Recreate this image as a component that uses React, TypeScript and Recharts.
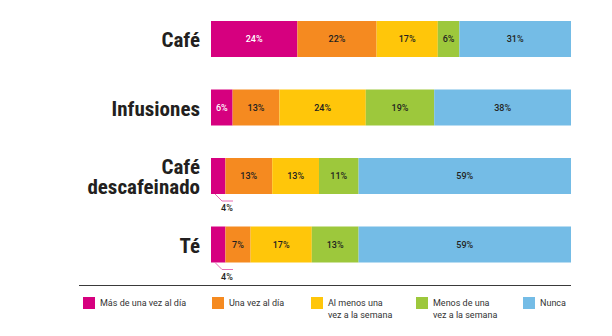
import { Bar, BarChart, LabelList, XAxis, YAxis } from 'recharts';

const categories = ['Café', 'Infusiones', 'Café\ndescafeinado', 'Té'];
const masDeUnaVez = [24, 6, 4, 4];
const unaVez = [22, 13, 13, 7];
const alMenosSemana = [17, 24, 13, 17];
const menosSemana = [6, 19, 11, 13];
const nunca = [31, 38, 59, 59];

const seriesNames = [
  'Más de una vez al día',
  'Una vez al día',
  'Al menos una\nvez a la semana',
  'Menos de una\nvez a la semana',
  'Nunca',
];
const seriesKeys = ['mas', 'una', 'alMenos', 'menos', 'nunca'];
const colors = ['#d6007f', '#f58a20', '#ffc60a', '#9dc83c', '#74bce6'];

const data = categories.map((c, i) => ({
  name: c,
  mas: masDeUnaVez[i],
  una: unaVez[i],
  alMenos: alMenosSemana[i],
  menos: menosSemana[i],
  nunca: nunca[i],
}));

const catFont = '"Liberation Sans Narrow", "Roboto Condensed", Roboto, sans-serif';
const labelFont = 'Roboto, "Noto Sans", sans-serif';

function CategoryTick(props: any) {
  const { x, y, payload } = props;
  const lines = String(payload.value).split('\n');
  const lh = 20;
  const start = y - ((lines.length - 1) * lh) / 2;
  return (
    <text
      x={x}
      y={start}
      textAnchor="end"
      dominantBaseline="central"
      fontFamily={catFont}
      fontWeight={700}
      fontSize={21}
      fill="#231f20"
    >
      {lines.map((l, i) => (
        <tspan key={i} x={x} y={start + i * lh} dy="0.05em">
          {l}
        </tspan>
      ))}
    </text>
  );
}

function makeLabel(white: boolean) {
  return function SegLabel(props: any) {
    const { x, y, width, height, value } = props;
    if (value == null) return null;
    if (value < 5) {
      const x0 = x + 4;
      const y0 = y + height;
      return (
        <g>
          <polyline
            points={`${x0},${y0} ${x0 + 7},${y0 + 7} ${x0 + 18},${y0 + 7}`}
            fill="none"
            stroke="#e86bb4"
            strokeWidth={1}
          />
          <text
            x={x + 16}
            y={y0 + 14}
            textAnchor="middle"
            dominantBaseline="central"
            fontFamily={labelFont}
            fontWeight={500}
            fontSize={9}
            fill="#231f20"
          >
            {value}%
          </text>
        </g>
      );
    }
    return (
      <text
        x={x + width / 2}
        y={y + height / 2}
        textAnchor="middle"
        dominantBaseline="central"
        fontFamily={labelFont}
        fontWeight={500}
        fontSize={9}
        fill={white ? '#ffffff' : '#231f20'}
      >
        {value}%
      </text>
    );
  };
}

const legendX = [83, 212, 311, 416, 523];

function ChartLegend() {
  return (
    <div style={{ position: 'absolute', left: 0, top: 0, width: 612, height: 336, pointerEvents: 'none' }}>
      <div style={{ position: 'absolute', left: 79, top: 285, width: 492, height: 0, borderTop: '1.5px solid #3a3a3a' }} />
      {seriesNames.map((n, i) => (
        <div
          key={n}
          style={{ position: 'absolute', left: legendX[i], top: 297, display: 'flex', alignItems: 'flex-start' }}
        >
          <div style={{ width: 12, height: 12, background: colors[i], flex: 'none' }} />
          <div
            style={{
              marginLeft: 5,
              fontFamily: labelFont,
              fontSize: 9,
              lineHeight: '12px',
              color: '#333',
              whiteSpace: 'pre',
            }}
          >
            {n}
          </div>
        </div>
      ))}
    </div>
  );
}

export default function App() {
  return (
    <div style={{ position: 'absolute', left: 0, top: 0, width: 612, height: 336, background: '#fff' }}>
      <BarChart
        width={612}
        height={336}
        data={data}
        layout="vertical"
        barSize={36}
        margin={{ top: 5, right: 41, left: 0, bottom: 57 }}
      >
        <XAxis type="number" domain={[0, 100]} hide />
        <YAxis
          type="category"
          dataKey="name"
          width={211}
          axisLine={false}
          tickLine={false}
          tickSize={0}
          tickMargin={11}
          tick={<CategoryTick />}
          interval={0}
        />
        {seriesKeys.map((k, i) => (
          <Bar key={k} dataKey={k} name={seriesNames[i]} stackId="a" fill={colors[i]} isAnimationActive={false}>
            <LabelList dataKey={k} content={makeLabel(i === 0)} />
          </Bar>
        ))}
      </BarChart>
      <ChartLegend />
    </div>
  );
}
